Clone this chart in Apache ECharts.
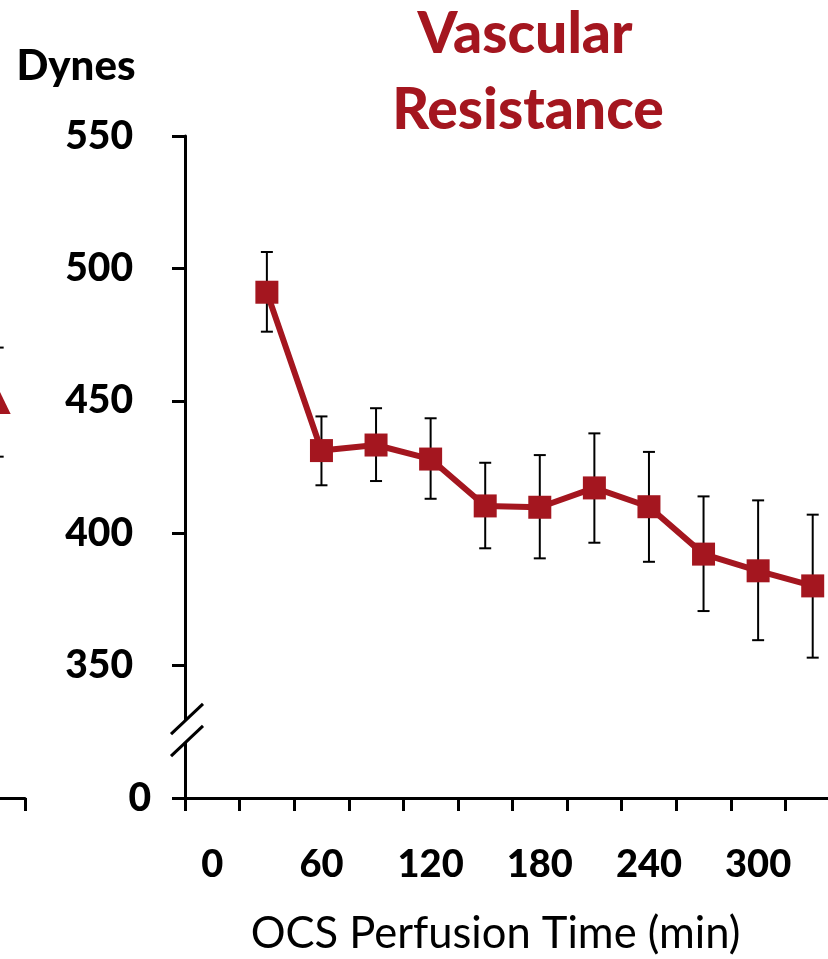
<!DOCTYPE html>
<html><head><meta charset="utf-8">
<script src="https://cdn.jsdelivr.net/npm/echarts@6/dist/echarts.min.js"></script>
<style>html,body{margin:0;padding:0;background:#fff}#c{width:828px;height:959px}</style>
</head><body><div id="c"></div>
<script>
// ---- data ----
const categories = ['0','30','60','90','120','150','180','210','240','270','300','330'];
const resistance = [null, 491.0, 431.2, 433.3, 428.0, 410.3, 409.8, 417.1, 410.0, 392.1, 385.8, 380.1];
const errUpper   = [null, 506.2, 444.1, 447.2, 443.4, 426.6, 429.5, 437.7, 430.7, 413.9, 412.4, 407.0];
const errLower   = [null, 476.1, 418.1, 419.7, 413.0, 394.3, 390.5, 396.4, 389.2, 370.6, 359.6, 353.0];
// partial neighbouring panel visible at the left edge (last point only)
const leftPanelValue = [null, null, null, null, null, null, null, null, null, null, null, 450.1];
const leftPanelUpper = [null, null, null, null, null, null, null, null, null, null, null, 470.1];
const leftPanelLower = [null, null, null, null, null, null, null, null, null, null, null, 428.9];
const yAxisMin = 300, yAxisMax = 550, yAxisStep = 50;
const breakValue = 325;          // where the axis break is drawn
const breakLabel = '0';          // label shown for the axis minimum (below the break)

const RED = '#a4161f';
const FONT = 'Lato';
const HEAVY = 900;

const chart = echarts.init(document.getElementById('c'), null, {renderer: 'canvas'});

function errData(up, lo) {
  const out = [];
  up.forEach((u, i) => { if (u != null) out.push([i, u, lo[i]]); });
  return out;
}
function errRender(params, api) {
  const i = api.value(0);
  const hi = api.coord([i, api.value(1)]);
  const lo = api.coord([i, api.value(2)]);
  const hw = 6;
  const st = {stroke: '#000', lineWidth: 2};
  return {type: 'group', children: [
    {type: 'line', shape: {x1: hi[0], y1: hi[1], x2: lo[0], y2: lo[1]}, style: st},
    {type: 'line', shape: {x1: hi[0] - hw, y1: hi[1], x2: hi[0] + hw, y2: hi[1]}, style: st},
    {type: 'line', shape: {x1: lo[0] - hw, y1: lo[1], x2: lo[0] + hw, y2: lo[1]}, style: st}
  ]};
}

const axisLine = {show: true, lineStyle: {color: '#000', width: 3}};
const axisTick = {show: true, inside: false, length: 13, lineStyle: {color: '#000', width: 3}};

const option = {
  animation: false,
  backgroundColor: '#fff',
  grid: [
    {left: 185, right: -12, top: 136, bottom: 161, outerBoundsMode: 'none', containLabel: false},
    {left: -631, right: 803, top: 136, bottom: 161, outerBoundsMode: 'none', containLabel: false}
  ],
  xAxis: [
    {
      type: 'category', gridIndex: 0, data: categories, boundaryGap: true,
      axisLine: axisLine,
      axisTick: Object.assign({interval: 0, alignWithLabel: false}, axisTick),
      axisLabel: {interval: 1, margin: 48, fontFamily: FONT, fontWeight: HEAVY, fontSize: 38, color: '#000'},
      splitLine: {show: false},
      name: 'OCS Perfusion Time (min)', nameLocation: 'middle', nameGap: 114,
      nameTextStyle: {fontFamily: FONT, fontSize: 43.5, color: '#000', padding: [0, 34, 0, 0]}
    },
    {
      type: 'category', gridIndex: 1, data: categories, boundaryGap: true,
      axisLine: axisLine,
      axisTick: Object.assign({interval: 0}, axisTick),
      axisLabel: {show: false}, splitLine: {show: false}
    }
  ],
  yAxis: [
    {
      type: 'value', gridIndex: 0, min: yAxisMin, max: yAxisMax, interval: yAxisStep,
      axisLine: axisLine, axisTick: axisTick, splitLine: {show: false},
      axisLabel: {
        margin: 118, align: 'left',
        formatter: v => v === yAxisMin ? '{z|' + breakLabel + '}' : '{n|' + v + '}',
        rich: {
          n: {width: 66, align: 'right', fontFamily: FONT, fontWeight: HEAVY, fontSize: 39, color: '#000'},
          z: {width: 84, align: 'right', fontFamily: FONT, fontWeight: HEAVY, fontSize: 39, color: '#000'}
        }
      }
    },
    {
      type: 'value', gridIndex: 1, min: yAxisMin, max: yAxisMax, show: false
    }
  ],
  series: [
    {type: 'custom', xAxisIndex: 0, yAxisIndex: 0, renderItem: errRender, data: errData(errUpper, errLower), z: 1, silent: true},
    {
      type: 'line', xAxisIndex: 0, yAxisIndex: 0, data: resistance, z: 3,
      symbol: 'rect', symbolSize: 23, showAllSymbol: true,
      lineStyle: {color: RED, width: 6}, itemStyle: {color: RED}
    },
    {type: 'custom', xAxisIndex: 1, yAxisIndex: 1, renderItem: errRender, data: errData(leftPanelUpper, leftPanelLower), z: 1, silent: true},
    {
      type: 'line', xAxisIndex: 1, yAxisIndex: 1, data: leftPanelValue, z: 3,
      symbol: 'triangle', symbolSize: [26, 27],
      lineStyle: {color: RED, width: 6}, itemStyle: {color: RED}
    }
  ],
  graphic: [
    {type: 'text', x: 525, y: 35, z: 100, style: {text: 'Vascular', fill: RED, font: HEAVY + ' 57px ' + FONT, textAlign: 'center', textVerticalAlign: 'middle'}},
    {type: 'text', x: 528, y: 111, z: 100, style: {text: 'Resistance', fill: RED, font: HEAVY + ' 57px ' + FONT, textAlign: 'center', textVerticalAlign: 'middle'}},
    {type: 'text', x: 76, y: 66, z: 100, style: {text: 'Dynes', fill: '#000', font: HEAVY + ' 42px ' + FONT, textAlign: 'center', textVerticalAlign: 'middle'}}
  ]
};
chart.setOption(option);

// axis break marks on the y axis
const cy = chart.convertToPixel({yAxisIndex: 0}, breakValue);
const cx = chart.getModel().getComponent('grid', 0).coordinateSystem.getRect().x;
const l1 = [[cx - 14, cy + 2.3], [cx + 18, cy - 28]];
const l2 = [[cx - 14, cy + 24.3], [cx + 18, cy - 6]];
chart.setOption({graphic: option.graphic.concat([
  {type: 'polygon', z: 99, shape: {points: [l1[0], l1[1], l2[1], l2[0]]}, style: {fill: '#fff'}},
  {type: 'line', z: 100, shape: {x1: l1[0][0], y1: l1[0][1], x2: l1[1][0], y2: l1[1][1]}, style: {stroke: '#000', lineWidth: 3}},
  {type: 'line', z: 100, shape: {x1: l2[0][0], y1: l2[0][1], x2: l2[1][0], y2: l2[1][1]}, style: {stroke: '#000', lineWidth: 3}}
])});
</script>
</body></html>
